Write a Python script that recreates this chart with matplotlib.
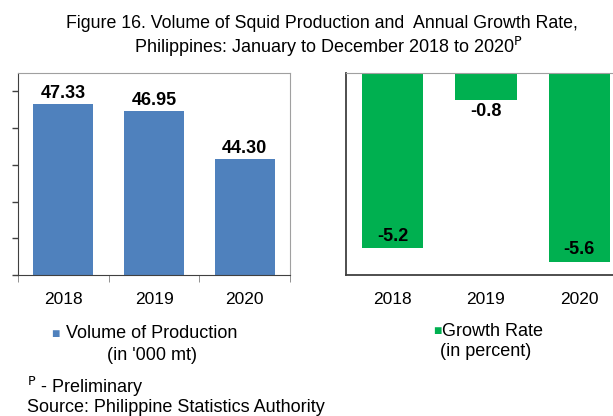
import matplotlib.pyplot as plt

years = ['2018', '2019', '2020']
volume = [47.33, 46.95, 44.30]
growth = [-5.2, -0.8, -5.6]
volume_labels = ['47.33', '46.95', '44.30']
growth_labels = ['-5.2', '-0.8', '-5.6']

plt.rcParams['font.family'] = ['Liberation Sans', 'DejaVu Sans']

W, H = 613, 416
fig = plt.figure(figsize=(W / 100, H / 100), dpi=100)


def px_axes(x0, y0, x1, y1):
    return fig.add_axes([x0 / W, 1 - y1 / H, (x1 - x0) / W, (y1 - y0) / H])


blue = '#4F81BD'
green = '#00B050'
x = range(len(years))

# left panel: volume of production
ax1 = px_axes(18, 73, 290, 275)
ax1.bar(x, volume, width=0.66, color=blue, zorder=2)
ax1.set_xlim(-0.5, 2.5)
ax1.set_ylim(38, 49)
ax1.set_yticks([38, 40, 42, 44, 46, 48])
ax1.tick_params(axis='y', length=4, width=1, labelleft=False, color='#404040')
ax1.set_xticks(list(x))
ax1.set_xticklabels(years, fontsize=12.5)
ax1.set_xticks([-0.5, 0.5, 1.5, 2.5], minor=True)
ax1.tick_params(axis='x', which='major', length=0, pad=12)
ax1.tick_params(axis='x', which='minor', length=5, color='#808080')
for i, v in enumerate(volume):
    ax1.annotate(volume_labels[i], (i, v), xytext=(0, 1.5), textcoords='offset points',
                 ha='center', va='bottom', fontsize=13, fontweight='bold')
for s in ['top', 'right']:
    ax1.spines[s].set_color('#A0A0A0')
for s in ['left', 'bottom']:
    ax1.spines[s].set_color('#404040')

# right panel: growth rate (extends past figure edge)
ax2 = px_axes(346, 73, 626, 275)
ax2.bar(x, growth, width=0.66, color=green, zorder=2)
ax2.set_xlim(-0.5, 2.5)
ax2.set_ylim(-6, 0)
ax2.set_yticks([])
ax2.set_xticks(list(x))
ax2.set_xticklabels(years, fontsize=12.5)
ax2.tick_params(axis='x', length=0, pad=12)
for i, v in enumerate(growth):
    if v < -2:
        ax2.annotate(growth_labels[i], (i, v), xytext=(0, 2.5), textcoords='offset points',
                     ha='center', va='bottom', fontsize=13, fontweight='bold')
    else:
        ax2.annotate(growth_labels[i], (i, v), xytext=(0, -2), textcoords='offset points',
                     ha='center', va='top', fontsize=13, fontweight='bold')
ax2.spines['top'].set_color('#A0A0A0')
ax2.spines['right'].set_visible(False)
for s in ['left', 'bottom']:
    ax2.spines[s].set_color('#404040')
    ax2.spines[s].set_linewidth(1.3)

# title
fig.text(322 / W, 1 - 23 / H, 'Figure 16. Volume of Squid Production and  Annual Growth Rate,',
         ha='center', va='center', fontsize=12.8)
fig.text(328 / W, 1 - 47 / H, 'Philippines: January to December 2018 to 2020$^{\\mathrm{P}}$',
         ha='center', va='center', fontsize=13)

# legends
fig.text(55 / W, 1 - 334 / H, '\u25A0', color=blue, ha='center', va='center', fontsize=10)
fig.text(66 / W, 1 - 334 / H, 'Volume of Production', ha='left', va='center', fontsize=13)
fig.text(152 / W, 1 - 355 / H, "(in '000 mt)", ha='center', va='center', fontsize=13)
fig.text(437 / W, 1 - 331 / H, '\u25A0', color=green, ha='center', va='center', fontsize=10)
fig.text(442 / W, 1 - 331 / H, 'Growth Rate', ha='left', va='center', fontsize=13)
fig.text(440 / W, 1 - 351 / H, '(in percent)', ha='left', va='center', fontsize=13)

# footnotes
fig.text(27 / W, 1 - 387 / H, '$^{\\mathrm{P}}$ - Preliminary', ha='left', va='center', fontsize=13)
fig.text(27 / W, 1 - 407 / H, 'Source: Philippine Statistics Authority', ha='left', va='center', fontsize=13)

fig.savefig('out.png', dpi=100)
